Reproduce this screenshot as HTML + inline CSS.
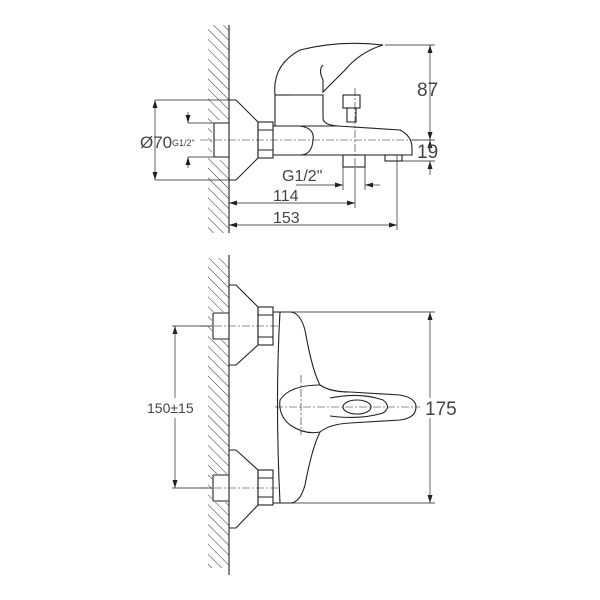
<!DOCTYPE html>
<html><head><meta charset="utf-8"><style>body{margin:0;background:#fff}svg{display:block}</style></head><body>
<svg width="600" height="600" viewBox="0 0 600 600" xmlns="http://www.w3.org/2000/svg" font-family="Liberation Sans, sans-serif">
<defs>
<pattern id="h" width="7" height="7" patternUnits="userSpaceOnUse" patternTransform="rotate(-45)"><line x1="0" y1="0" x2="0" y2="7" stroke="#333" stroke-width="1"/></pattern>
<marker id="a" markerWidth="8" markerHeight="8" refX="8" refY="4" orient="auto-start-reverse" markerUnits="userSpaceOnUse"><path d="M0,1.5 L8,4 L0,6.5 z" fill="#222"/></marker>
</defs>
<g fill="none" stroke="#222" stroke-width="1.1">
<!-- TOP VIEW -->
<rect x="208" y="25" width="21" height="208" fill="url(#h)" stroke="none"/>
<rect x="212" y="120" width="17" height="40" fill="#fff" stroke="none"/>
<line x1="229" y1="25" x2="229" y2="233"/>
<path d="M214,123 H229 M214,157 H229 M214,123 V157"/>
<path d="M229,100 H236 L258,122 V158 L236,180 H229"/>
<rect x="258" y="122" width="15" height="36"/>
<path d="M258,130 H273 M258,150 H273"/>
<path d="M273,126 H300 Q315,128 313,140 Q312,155 300,155 H273"/>
<path d="M300,126 H338 L400,130 Q412,136 412,148 V155 H300"/>
<path d="M275,126 V95 L323,95 V118 Q323,125 338,126"/>
<path d="M275,95 Q272,65 300,50 Q340,40 383,45 Q360,52 345,70 L323,92 V80 Q318,70 323,65"/>
<path d="M275,95 L290,95"/>
<rect x="343" y="95" width="17" height="13"/>
<path d="M347,108 V122 H356 V108"/>
<rect x="343" y="155" width="22" height="12"/>
<rect x="385" y="155" width="17" height="6"/>
<g stroke-width="0.6" stroke-dasharray="8,2,2,2">
<line x1="200" y1="140" x2="420" y2="140"/>
<line x1="355" y1="88" x2="355" y2="170"/>
</g>
<g stroke-width="0.7">
<line x1="155" y1="100" x2="229" y2="100"/><line x1="155" y1="180" x2="229" y2="180"/>
<line x1="155" y1="100" x2="155" y2="180" marker-start="url(#a)" marker-end="url(#a)"/>
<line x1="188" y1="123" x2="214" y2="123"/><line x1="188" y1="157" x2="214" y2="157"/>
<line x1="188" y1="112" x2="188" y2="123" marker-end="url(#a)"/><line x1="188" y1="168" x2="188" y2="157" marker-end="url(#a)"/>
<line x1="385" y1="45" x2="435" y2="45"/><line x1="412" y1="140" x2="435" y2="140"/><line x1="402" y1="161" x2="435" y2="161"/>
<line x1="430" y1="45" x2="430" y2="140" marker-start="url(#a)" marker-end="url(#a)"/>
<line x1="430" y1="152" x2="430" y2="140" marker-end="url(#a)"/><line x1="430" y1="175" x2="430" y2="161" marker-end="url(#a)"/>
<line x1="343" y1="167" x2="343" y2="190"/><line x1="365" y1="167" x2="365" y2="190"/>
<line x1="296" y1="185" x2="343" y2="185" marker-end="url(#a)"/><line x1="380" y1="185" x2="365" y2="185" marker-end="url(#a)"/>
<line x1="355" y1="170" x2="355" y2="208"/><line x1="397" y1="155" x2="397" y2="230"/>
<line x1="229" y1="203" x2="355" y2="203" marker-start="url(#a)" marker-end="url(#a)"/>
<line x1="229" y1="225" x2="397" y2="225" marker-start="url(#a)" marker-end="url(#a)"/>
</g>
<!-- BOTTOM VIEW -->
<rect x="208" y="258" width="21" height="310" fill="url(#h)" stroke="none"/>
<rect x="212" y="312" width="17" height="28" fill="#fff" stroke="none"/>
<rect x="212" y="474" width="17" height="28" fill="#fff" stroke="none"/>
<line x1="229" y1="255" x2="229" y2="575"/>
<path d="M213,313 H229 M213,339 H229 M213,313 V339"/>
<path d="M213,475 H229 M213,501 H229 M213,475 V501"/>
<path d="M229,285 H236 L258,307 V345 L236,365 H229"/>
<rect x="258" y="307" width="15" height="38"/><path d="M258,315 H273 M258,337 H273"/>
<path d="M229,450 H236 L258,470 V505 L236,528 H229"/>
<rect x="258" y="470" width="15" height="35"/><path d="M258,478 H273 M258,497 H273"/>
<path d="M273,312 H290 Q300,312 305,330 Q312,370 320,385 Q330,392 350,392 L400,395 Q416,398 416,407 Q416,418 400,420 L350,423 Q330,424 320,432 Q312,448 305,485 Q300,503 290,503 H273"/>
<path d="M280,312 Q275,400 280,503"/>
<path d="M320,385 Q290,385 280,400 Q278,415 290,425 Q305,435 320,432"/>
<path d="M330,398 Q360,392 383,400 Q392,407 383,413 Q360,420 330,416"/>
<ellipse cx="357" cy="407" rx="14" ry="7"/>
<g stroke-width="0.6" stroke-dasharray="8,2,2,2">
<line x1="200" y1="326" x2="280" y2="326"/><line x1="200" y1="488" x2="280" y2="488"/>
<line x1="275" y1="407" x2="420" y2="407"/><line x1="301" y1="375" x2="301" y2="435"/>
</g>
<g stroke-width="0.7">
<line x1="172" y1="326" x2="212" y2="326"/><line x1="172" y1="488" x2="212" y2="488"/>
<line x1="175" y1="326" x2="175" y2="398" marker-start="url(#a)"/><line x1="175" y1="418" x2="175" y2="488" marker-end="url(#a)"/>
<line x1="290" y1="312" x2="435" y2="312"/><line x1="290" y1="503" x2="435" y2="503"/>
<line x1="430" y1="312" x2="430" y2="398" marker-start="url(#a)"/><line x1="430" y1="418" x2="430" y2="503" marker-end="url(#a)"/>
</g>
</g>
<g fill="#444">
<text x="140" y="148" font-size="17">Ø70</text>
<text x="172" y="146" font-size="9">G1/2"</text>
<text x="417" y="96" font-size="19">87</text>
<text x="417" y="158" font-size="19">19</text>
<text x="282" y="181" font-size="16">G1/2"</text>
<text x="273" y="201" font-size="16">114</text>
<text x="273" y="223" font-size="16">153</text>
<text x="147" y="413" font-size="14">150±15</text>
<text x="425" y="415" font-size="19">175</text>
</g>
</svg>
</body></html>
